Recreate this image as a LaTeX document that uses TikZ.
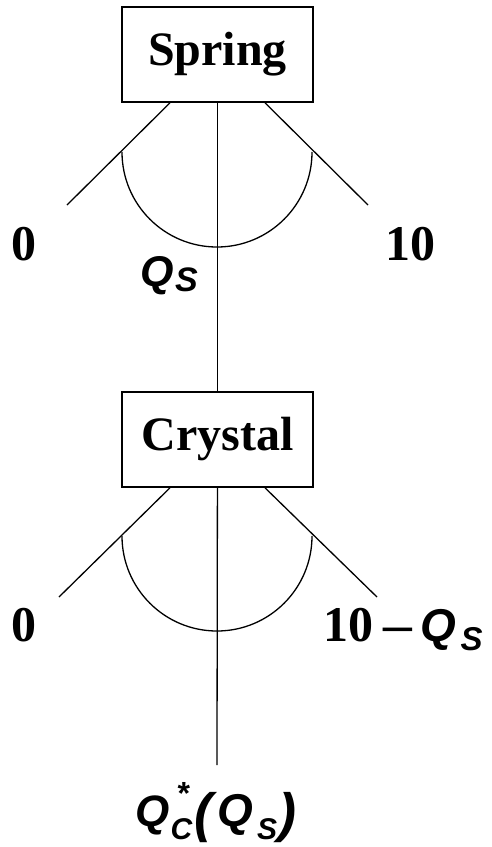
\documentclass[tikz,border=0pt]{standalone}
\usepackage{fontspec}
\usepackage{graphicx}
\setmainfont{Liberation Serif}
\newfontfamily\hv{Liberation Sans}
\usetikzlibrary{calc}
\newcommand\hvs[2]{{\hv\bfseries\itshape\fontsize{#1}{#1}\selectfont #2}}
\begin{document}
\begin{tikzpicture}[x=1pt,y=-1pt,
  box/.style={draw,line width=1.6pt,minimum width=191pt,minimum height=95pt,inner sep=0pt,
    font=\bfseries\fontsize{48}{48}\selectfont},
  conn/.style={line width=1.3pt},
  lab/.style={inner sep=0pt,anchor=base west,font=\bfseries\fontsize{50}{50}\selectfont}]
\useasboundingbox (0,0) rectangle (492,847);
\node[box] (spring) at (217.5,54.5) {Spring};
\node[box] (crystal) at (217.5,439.5) {Crystal};
\coordinate (sl) at (67,205);
\coordinate (sr) at (368,205);
\coordinate (cl) at (59,597);
\coordinate (cr) at (377,597);
\coordinate (cend) at (217,765);
\draw[conn] ($(spring.south)+(-47.5,0)$) -- (sl);
\draw[conn] ($(spring.south)+(47.5,0)$) -- (sr);
\draw[conn] (spring) -- (crystal);
\draw[conn] (122,152) arc[start angle=180,end angle=360,radius=95pt];
\draw[conn] ($(crystal.south)+(-47.5,0)$) -- (cl);
\draw[conn] ($(crystal.south)+(47.5,0)$) -- (cr);
\draw[conn] (crystal) -- (cend);
\draw[conn] (122,536) arc[start angle=180,end angle=360,radius=95pt];
\node[lab] (a0) at (11,260) {0};
\node[lab] (a10) at (385,260) {10};
\node[lab] (qs) at (140,286) {\hvs{43}{Q}\kern1.5pt\raisebox{-5pt}{\hvs{34}{S}}};
\node[lab] (b0) at (11,641) {0};
\node[lab] (b10) at (323,641) {10\kern10pt\scalebox{1.15}[1]{--}\kern9pt\hvs{46}{Q}\kern4pt\raisebox{-9pt}{\hvs{33}{S}}};
\node[lab] (qc) at (135,826) {\hvs{44}{Q}\rlap{\kern7pt\raisebox{22pt}{\hvs{32}{*}}}\kern1.3pt\raisebox{-13pt}{\hvs{30}{C}}\kern2pt\raisebox{-5pt}{\hvs{54}{(}}\kern5pt\hvs{46}{Q}\kern4pt\raisebox{-13pt}{\hvs{30}{S}}\kern1pt\raisebox{-5pt}{\hvs{54}{)}}};
\end{tikzpicture}
\end{document}
